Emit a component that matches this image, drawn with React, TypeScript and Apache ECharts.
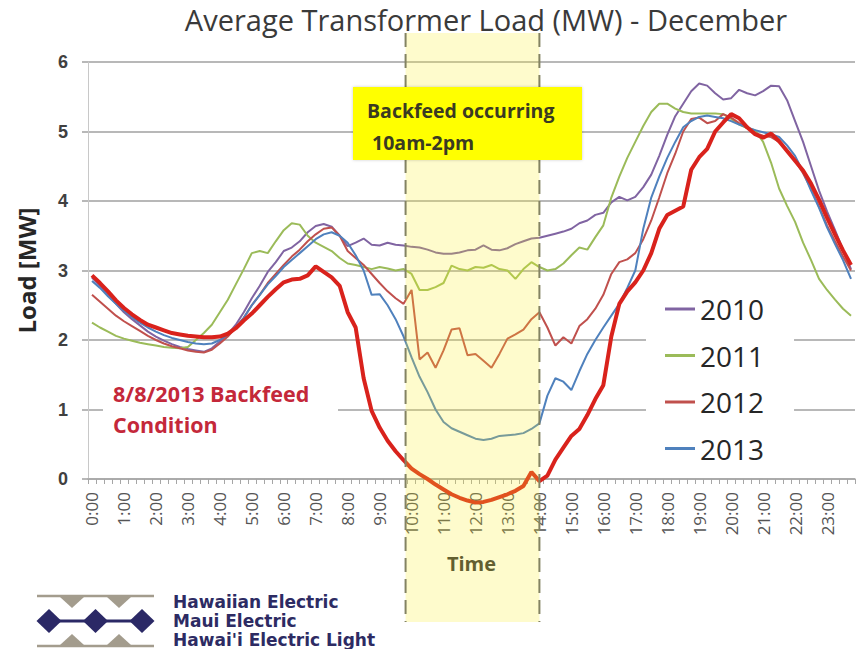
import React, { useEffect, useRef } from "react";
import * as echarts from "echarts";

const titleText = "Average Transformer Load (MW) - December";

const hourLabels = [
  "0:00", "1:00", "2:00", "3:00", "4:00", "5:00", "6:00", "7:00",
  "8:00", "9:00", "10:00", "11:00", "12:00", "13:00", "14:00", "15:00",
  "16:00", "17:00", "18:00", "19:00", "20:00", "21:00", "22:00", "23:00",
];
const quarterMinutes = ["00", "15", "30", "45"];
const timeCategories: string[] = [];
hourLabels.forEach((h) => {
  const hh = h.split(":")[0];
  quarterMinutes.forEach((m) => timeCategories.push(`${hh}:${m}`));
});

const legendYears = ["2010", "2011", "2012", "2013"];

const load2010 = [
  2.90, 2.78, 2.65, 2.52, 2.40, 2.30, 2.21, 2.12,
  2.05, 1.99, 1.94, 1.90, 1.87, 1.85, 1.83, 1.88,
  1.98, 2.08, 2.22, 2.40, 2.60, 2.78, 2.98, 3.12,
  3.28, 3.33, 3.42, 3.55, 3.64, 3.67, 3.63, 3.50,
  3.35, 3.40, 3.46, 3.37, 3.36, 3.40, 3.37, 3.36,
  3.34, 3.33, 3.30, 3.26, 3.24, 3.24, 3.26, 3.29,
  3.30, 3.36, 3.30, 3.29, 3.32, 3.38, 3.42, 3.46,
  3.47, 3.50, 3.53, 3.56, 3.60, 3.68, 3.72, 3.80,
  3.83, 3.98, 4.06, 4.01, 4.06, 4.20, 4.38, 4.65,
  4.95, 5.22, 5.40, 5.58, 5.69, 5.66, 5.55, 5.46,
  5.48, 5.60, 5.55, 5.52, 5.58, 5.66, 5.65, 5.45,
  5.15, 4.85, 4.50, 4.15, 3.85, 3.58, 3.30, 3.02,
];

const load2011 = [
  2.25, 2.18, 2.12, 2.06, 2.02, 1.99, 1.96, 1.94,
  1.92, 1.90, 1.89, 1.88, 1.90, 2.00, 2.10, 2.22,
  2.40, 2.58, 2.80, 3.02, 3.25, 3.28, 3.25, 3.42,
  3.58, 3.68, 3.66, 3.50, 3.40, 3.34, 3.28, 3.18,
  3.10, 3.08, 3.05, 3.02, 3.05, 3.03, 3.00, 3.02,
  2.95, 2.72, 2.72, 2.76, 2.82, 3.07, 3.02, 3.00,
  3.05, 3.04, 3.08, 3.02, 3.00, 2.88, 3.02, 3.12,
  3.05, 3.00, 3.02, 3.10, 3.22, 3.33, 3.30, 3.48,
  3.65, 4.05, 4.35, 4.62, 4.85, 5.08, 5.28, 5.40,
  5.40, 5.33, 5.28, 5.26, 5.26, 5.26, 5.26, 5.25,
  5.18, 5.10, 5.05, 5.02, 4.85, 4.55, 4.18, 3.93,
  3.70, 3.40, 3.15, 2.88, 2.72, 2.58, 2.45, 2.35,
];

const load2012 = [
  2.65, 2.55, 2.45, 2.35, 2.27, 2.20, 2.13, 2.06,
  2.00, 1.95, 1.91, 1.88, 1.85, 1.83, 1.82, 1.86,
  1.95, 2.05, 2.18, 2.32, 2.50, 2.65, 2.82, 2.95,
  3.08, 3.20, 3.30, 3.42, 3.52, 3.60, 3.62, 3.50,
  3.28, 3.18, 3.08, 2.95, 2.82, 2.70, 2.60, 2.52,
  2.72, 1.72, 1.82, 1.60, 1.85, 2.15, 2.17, 1.78,
  1.80, 1.70, 1.60, 1.80, 2.02, 2.08, 2.15, 2.30,
  2.40, 2.18, 1.92, 2.04, 1.95, 2.20, 2.30, 2.45,
  2.65, 2.95, 3.12, 3.16, 3.25, 3.45, 3.72, 4.05,
  4.40, 4.68, 5.00, 5.18, 5.20, 5.12, 5.15, 5.25,
  5.20, 5.12, 5.05, 4.98, 4.94, 4.92, 4.85, 4.72,
  4.58, 4.40, 4.18, 3.92, 3.65, 3.42, 3.20, 3.00,
];

const load2013 = [
  2.85, 2.75, 2.63, 2.52, 2.42, 2.33, 2.25, 2.18,
  2.12, 2.07, 2.03, 2.00, 1.97, 1.95, 1.94, 1.95,
  2.00, 2.08, 2.18, 2.32, 2.50, 2.65, 2.80, 2.92,
  3.05, 3.15, 3.25, 3.35, 3.45, 3.52, 3.55, 3.50,
  3.40, 3.22, 3.00, 2.65, 2.66, 2.50, 2.30, 2.05,
  1.75, 1.47, 1.25, 1.00, 0.82, 0.73, 0.68, 0.63,
  0.58, 0.56, 0.58, 0.62, 0.63, 0.64, 0.66, 0.72,
  0.80, 1.20, 1.45, 1.40, 1.28, 1.55, 1.80, 2.00,
  2.18, 2.35, 2.52, 2.75, 3.00, 3.60, 4.05, 4.35,
  4.62, 4.85, 5.06, 5.15, 5.21, 5.23, 5.21, 5.19,
  5.15, 5.10, 5.06, 5.02, 4.99, 4.96, 4.92, 4.80,
  4.65, 4.42, 4.15, 3.90, 3.62, 3.38, 3.15, 2.88,
];

const backfeed20130808 = [
  2.93, 2.82, 2.70, 2.57, 2.46, 2.37, 2.29, 2.22,
  2.18, 2.14, 2.10, 2.08, 2.06, 2.05, 2.04, 2.04,
  2.05, 2.09, 2.17, 2.28, 2.38, 2.50, 2.62, 2.73,
  2.83, 2.87, 2.88, 2.93, 3.06, 2.98, 2.90, 2.78,
  2.40, 2.18, 1.45, 0.98, 0.74, 0.55, 0.40, 0.27,
  0.15, 0.07, 0.00, -0.08, -0.15, -0.22, -0.27, -0.31,
  -0.34, -0.33, -0.30, -0.26, -0.22, -0.17, -0.10, 0.10,
  -0.03, 0.05, 0.28, 0.45, 0.62, 0.72, 0.92, 1.15,
  1.35, 2.05, 2.52, 2.70, 2.83, 3.00, 3.25, 3.60,
  3.80, 3.86, 3.92, 4.45, 4.63, 4.75, 5.00, 5.13,
  5.25, 5.19, 5.06, 4.96, 4.91, 4.97, 4.86, 4.72,
  4.58, 4.44, 4.25, 4.02, 3.76, 3.52, 3.29, 3.08,
];

const seriesColors = {
  "2010": "#8064a2",
  "2011": "#9bbb59",
  "2012": "#c0504d",
  "2013": "#4f81bd",
  backfeed: "#d9221c",
};

const backfeedBoxText = "Backfeed occurring\n 10am-2pm";
const conditionText = "8/8/2013 Backfeed\nCondition";
const logoLines = ["Hawaiian Electric", "Maui Electric", "Hawai'i Electric Light"];

export default function App() {
  const ref = useRef<HTMLDivElement>(null);

  useEffect(() => {
    const el = ref.current;
    if (!el) return;
    const chart = echarts.init(el, null, { renderer: "svg" });

    const titleFont = { fontFamily: "Open Sans", fontSize: 29 };
    const measure = new echarts.graphic.Text({ style: { text: titleText, ...titleFont } });
    const titleWidth = measure.getBoundingRect().width;

    const lineSeries = (name: string, data: number[], color: string, width: number, extra: any = {}) => ({
      name,
      type: "line",
      data,
      symbol: "none",
      showSymbol: false,
      smooth: false,
      lineStyle: { color, width },
      itemStyle: { color },
      emphasis: { disabled: true },
      ...extra,
    });

    chart.setOption({
      animation: false,
      backgroundColor: "#ffffff",
      title: {
        text: titleText,
        left: 486 - titleWidth / 2 - 5,
        top: 0,
        textStyle: { ...titleFont, fontWeight: "normal", color: "#3a3a3a" },
      },
      grid: { left: 88, right: 11, top: 62, bottom: 170 },
      legend: {
        data: legendYears,
        orient: "vertical",
        left: 646,
        top: 288,
        icon: "rect",
        itemWidth: 30,
        itemHeight: 3,
        itemGap: 16.5,
        padding: [6, 30, 6, 19],
        backgroundColor: "#ffffff",
        textStyle: { fontFamily: "Open Sans", fontSize: 28, color: "#262626", lineHeight: 30 },
      },
      xAxis: {
        type: "category",
        data: timeCategories,
        boundaryGap: true,
        name: "Time",
        nameLocation: "middle",
        nameGap: 74,
        nameTextStyle: { fontFamily: "Open Sans", fontWeight: "bold", fontSize: 20, color: "#333333" },
        axisLine: { lineStyle: { color: "#a6a6a6", width: 1.5 } },
        axisTick: { show: true, interval: 0, length: 5, lineStyle: { color: "#a6a6a6", width: 1 } },
        axisLabel: {
          interval: 3,
          rotate: 90,
          margin: 13,
          fontFamily: "Open Sans",
          fontSize: 17,
          color: "#555555",
        },
        splitLine: { show: false },
      },
      yAxis: {
        type: "value",
        min: 0,
        max: 6,
        interval: 1,
        name: "Load [MW]",
        nameLocation: "middle",
        nameGap: 50,
        nameTextStyle: { fontFamily: "Open Sans", fontWeight: "bold", fontSize: 24, color: "#262626" },
        axisLine: { show: true, lineStyle: { color: "#c8c8c8", width: 1 } },
        axisTick: { show: true, length: 6, lineStyle: { color: "#a0a0a0", width: 1.5 } },
        axisLabel: {
          margin: 20,
          fontFamily: "Liberation Sans",
          fontWeight: "bold",
          fontSize: 18,
          color: "#404040",
        },
        splitLine: { show: true, lineStyle: { color: "#a0a0a0", width: 1.5 } },
      },
      series: [
        lineSeries("2010", load2010, seriesColors["2010"], 2),
        lineSeries("2011", load2011, seriesColors["2011"], 2),
        lineSeries("2012", load2012, seriesColors["2012"], 2),
        lineSeries("2013", load2013, seriesColors["2013"], 2),
        lineSeries("8/8/2013 Backfeed Condition", backfeed20130808, seriesColors.backfeed, 4, {
          clip: false,
          z: 3,
        }),
      ],
    });

    const x10 = chart.convertToPixel({ xAxisIndex: 0 }, "10:00") as number;
    const x14 = chart.convertToPixel({ xAxisIndex: 0 }, "14:00") as number;
    const bandLeft = x10 - 6;
    const bandRight = x14;
    const bandTop = 33;
    const bandBottom = 622;

    const taupe = "#a39c8d";
    const navy = "#2b2966";
    const diamondCenters = [49, 95.5, 142];
    const triangleCenters = [72, 119];

    const logoElements: any[] = [
      { type: "line", shape: { x1: 37, y1: 596, x2: 154, y2: 596 }, style: { stroke: taupe, lineWidth: 2.5 }, z: 10 },
      { type: "line", shape: { x1: 37, y1: 646, x2: 154, y2: 646 }, style: { stroke: taupe, lineWidth: 2.5 }, z: 10 },
      { type: "line", shape: { x1: 40, y1: 621, x2: 150, y2: 621 }, style: { stroke: navy, lineWidth: 3 }, z: 10 },
      ...triangleCenters.map((cx) => ({
        type: "polygon",
        shape: { points: [[cx - 12, 597], [cx + 12, 597], [cx, 608]] },
        style: { fill: taupe },
        z: 10,
      })),
      ...triangleCenters.map((cx) => ({
        type: "polygon",
        shape: { points: [[cx - 12, 645], [cx + 12, 645], [cx, 634]] },
        style: { fill: taupe },
        z: 10,
      })),
      ...diamondCenters.map((cx) => ({
        type: "polygon",
        shape: { points: [[cx - 12.5, 621], [cx, 609], [cx + 12.5, 621], [cx, 633]] },
        style: { fill: navy },
        z: 11,
      })),
      ...logoLines.map((t, i) => ({
        type: "text",
        x: 173,
        y: 602 + i * 19,
        style: {
          text: t,
          fontFamily: "DejaVu Sans",
          fontWeight: "bold",
          fontSize: 17,
          fill: "#2d2b63",
          verticalAlign: "middle",
          align: "left",
        },
        z: 11,
      })),
    ];

    chart.setOption({
      graphic: {
        elements: [
          {
            type: "rect",
            shape: { x: 103, y: 377, width: 235, height: 63 },
            style: { fill: "#ffffff" },
            z: 1,
          },
          {
            type: "text",
            x: 113,
            y: 408.5,
            style: {
              text: conditionText,
              fontFamily: "Open Sans",
              fontWeight: "bold",
              fontSize: 21.5,
              lineHeight: 31,
              fill: "#c4283a",
              verticalAlign: "middle",
              align: "left",
            },
            z: 2,
          },
          {
            type: "rect",
            shape: { x: bandLeft, y: bandTop, width: bandRight - bandLeft, height: bandBottom - bandTop },
            style: { fill: "rgba(250, 238, 40, 0.24)" },
            z: 50,
            silent: true,
          },
          {
            type: "line",
            shape: { x1: bandLeft, y1: bandTop, x2: bandLeft, y2: bandBottom },
            style: { stroke: "#838363", lineWidth: 2, lineDash: [14, 7] },
            z: 55,
          },
          {
            type: "line",
            shape: { x1: bandRight, y1: bandTop, x2: bandRight, y2: bandBottom },
            style: { stroke: "#838363", lineWidth: 2, lineDash: [14, 7] },
            z: 55,
          },
          {
            type: "rect",
            shape: { x: 353, y: 87, width: 229, height: 73 },
            style: { fill: "#ffff00", shadowBlur: 3, shadowColor: "rgba(0,0,0,0.2)" },
            z: 60,
          },
          {
            type: "text",
            x: 367,
            y: 126,
            style: {
              text: backfeedBoxText,
              fontFamily: "Open Sans",
              fontWeight: "bold",
              fontSize: 19.5,
              lineHeight: 32,
              fill: "#3a3a22",
              verticalAlign: "middle",
              align: "left",
            },
            z: 61,
          },
          ...logoElements,
        ],
      },
    });

    return () => chart.dispose();
  }, []);

  return (
    <div
      ref={ref}
      style={{ position: "fixed", left: 0, top: 0, width: 866, height: 649, background: "#ffffff" }}
    />
  );
}
